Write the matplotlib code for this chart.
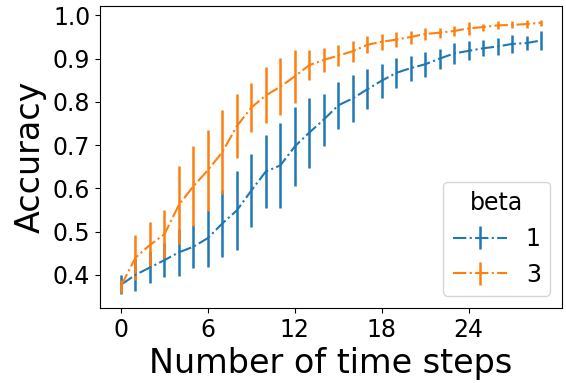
import numpy as np
import matplotlib
matplotlib.use('Agg')
import matplotlib.pyplot as plt

# mean accuracy per time step and half-width of the error bar, one pair per beta
steps = list(range(30))
beta_labels = ['1', '3']

acc_beta1 = [0.377, 0.400, 0.417, 0.434, 0.452, 0.465, 0.485, 0.519, 0.549, 0.595,
             0.639, 0.653, 0.697, 0.729, 0.759, 0.792, 0.808, 0.829, 0.849, 0.867,
             0.878, 0.887, 0.900, 0.912, 0.918, 0.924, 0.928, 0.934, 0.936, 0.942]
err_beta1 = [0.022, 0.037, 0.037, 0.040, 0.054, 0.050, 0.066, 0.077, 0.091, 0.084,
             0.085, 0.098, 0.092, 0.081, 0.060, 0.055, 0.054, 0.046, 0.039, 0.034,
             0.029, 0.029, 0.023, 0.024, 0.022, 0.019, 0.020, 0.020, 0.017, 0.021]

acc_beta3 = [0.374, 0.440, 0.469, 0.494, 0.562, 0.605, 0.642, 0.684, 0.744, 0.787,
             0.815, 0.835, 0.859, 0.885, 0.897, 0.907, 0.917, 0.932, 0.939, 0.944,
             0.950, 0.957, 0.960, 0.964, 0.970, 0.973, 0.977, 0.978, 0.980, 0.983]
err_beta3 = [0.015, 0.052, 0.054, 0.056, 0.090, 0.092, 0.094, 0.097, 0.074, 0.056,
             0.065, 0.066, 0.061, 0.035, 0.027, 0.025, 0.024, 0.020, 0.019, 0.018,
             0.015, 0.015, 0.012, 0.011, 0.015, 0.008, 0.009, 0.008, 0.009, 0.007]

fig = plt.figure(figsize=(5.66, 3.83), dpi=100)
ax = fig.add_axes([100 / 566, 1 - 308 / 383, 462 / 566, 302 / 383])

for acc, err, lab, col in [(acc_beta1, err_beta1, beta_labels[0], 'tab:blue'),
                           (acc_beta3, err_beta3, beta_labels[1], 'tab:orange')]:
    ax.errorbar(steps, acc, yerr=err, fmt='-.', color=col, lw=1.5,
                elinewidth=1.8, label=lab)

ax.set_xticks([0, 6, 12, 18, 24])
ax.set_yticks(np.arange(0.4, 1.01, 0.1))
ax.tick_params(labelsize=17)
ax.set_xlabel('Number of time steps', fontsize=24)
ax.set_ylabel('Accuracy', fontsize=24)

leg = ax.legend(title='beta', loc='lower right', fontsize=17, title_fontsize=17,
                handlelength=2.3)

fig.savefig('out.png', dpi=100)
